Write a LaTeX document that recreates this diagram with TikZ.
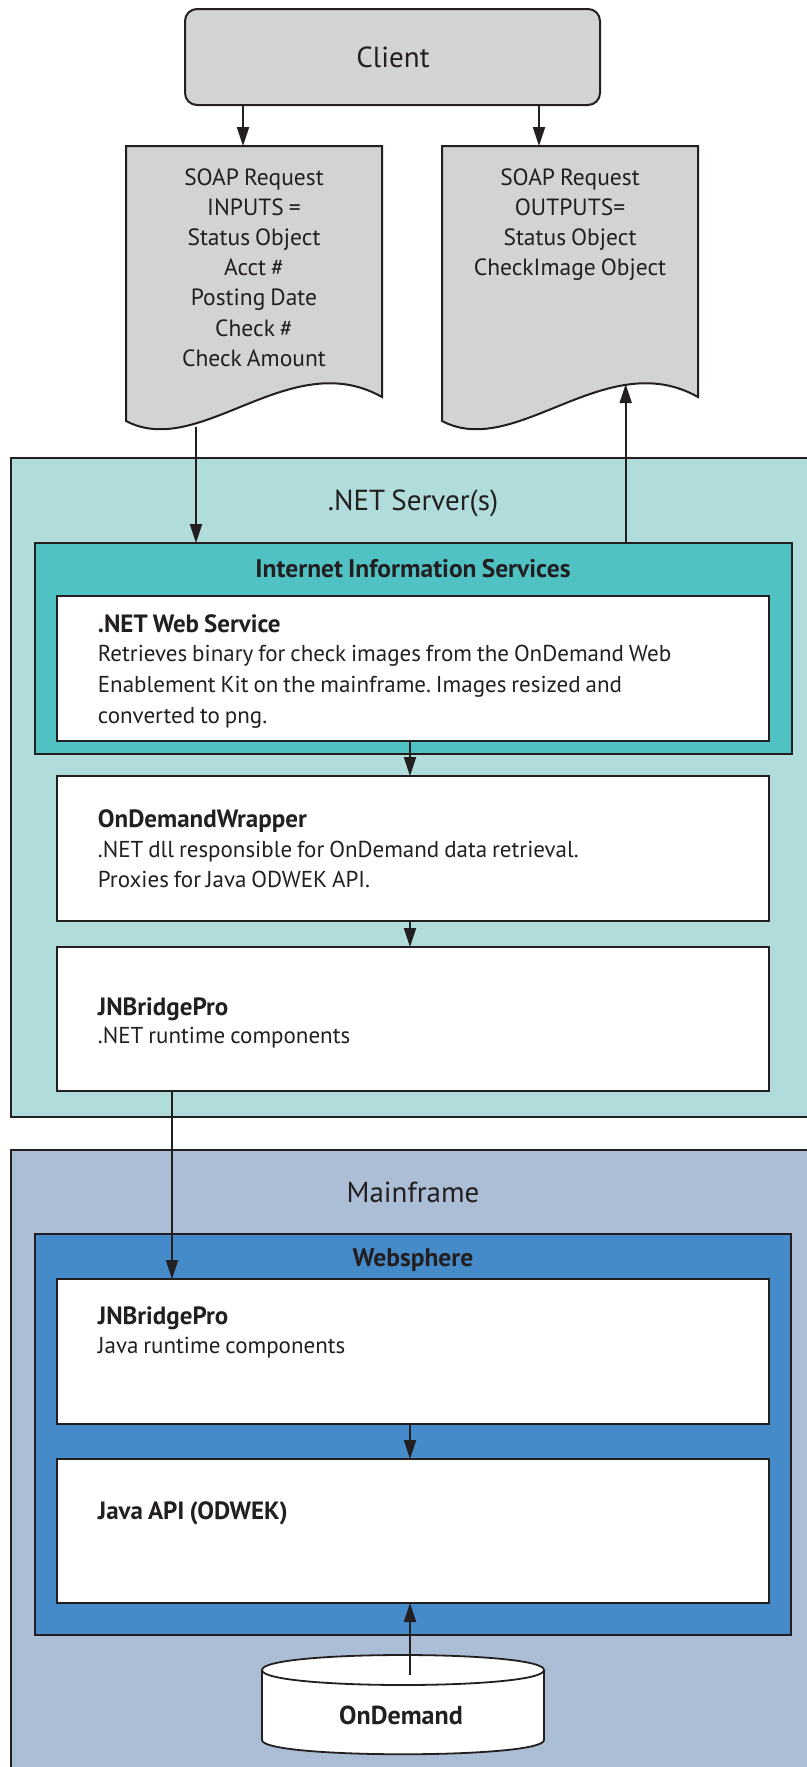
\documentclass[tikz,border=0pt]{standalone}
\usepackage{fontspec}
\setmainfont{PT Sans}[WordSpace=0.8]
\usetikzlibrary{arrows.meta}
\frenchspacing
\definecolor{lgray}{HTML}{D1D3D4}
\definecolor{srvc}{HTML}{B0DCDC}
\definecolor{iisc}{HTML}{50C2C4}
\definecolor{mfc}{HTML}{ABBED6}
\definecolor{wsc}{HTML}{458BCA}
\definecolor{ink}{HTML}{231F20}
\begin{document}
\begin{tikzpicture}[x=1pt,y=-1pt,line join=miter,
  frame/.style={draw=ink,line width=2.2pt,inner sep=0,outer sep=0,anchor=north west},
  wbox/.style={draw=ink,line width=1.4pt,fill=white,inner sep=0,outer sep=0,anchor=north west},
  ghost/.style={inner sep=0,outer sep=0,anchor=north west},
  arr/.style={draw=ink,line width=2pt,-{Triangle[length=19pt,width=12pt]}},
  big/.style={font=\fontsize{29}{32}\selectfont,anchor=base,inner sep=0,text=ink},
  doct/.style={font=\fontsize{23.5}{28}\selectfont,anchor=base,inner sep=0,text=ink},
  hdr/.style={font=\fontsize{25.5}{28}\selectfont\bfseries,anchor=base,inner sep=0,text=ink},
  ttl/.style={font=\fontsize{25}{28}\selectfont\bfseries,anchor=base west,inner sep=0,text=ink},
  body/.style={font=\fontsize{23}{26}\selectfont,anchor=base west,inner sep=0,text=ink}]
\fill[white] (0,0) rectangle (806,1767);
\useasboundingbox (0,0) rectangle (806,1767);

% Client
\node[frame,line width=2pt,fill=lgray,rounded corners=12pt,minimum width=415,minimum height=96] (client) at (185,9) {};
\node[big] (clientt) at (393,67) {Client};

% documents
\node[ghost,minimum width=256,minimum height=251] (doc1) at (126,146) {};
\node[ghost,minimum width=256,minimum height=251] (doc2) at (442,146) {};
\draw[draw=ink,line width=2pt,fill=lgray] (doc1.north west) -- (doc1.north east) -- (doc1.south east)
  .. controls (290,345) and (200,460) .. (126,421) -- cycle;
\draw[draw=ink,line width=2pt,fill=lgray] (doc2.north west) -- (doc2.north east) -- (doc2.south east)
  .. controls (606,345) and (516,460) .. (442,421) -- cycle;
\node[doct] (d1a) at (254,185.5) {SOAP Request};
\node[doct] (d1b) at (254,215.5) {INPUTS =};
\node[doct] (d1c) at (254,245.5) {Status Object};
\node[doct] (d1d) at (254,275.5) {Acct \#};
\node[doct] (d1e) at (254,305.5) {Posting Date};
\node[doct] (d1f) at (254,336) {Check \#};
\node[doct] (d1g) at (254,366) {Check Amount};
\node[doct] (d2a) at (570,185.5) {SOAP Request};
\node[doct] (d2b) at (570,215.5) {OUTPUTS=};
\node[doct] (d2c) at (570,245.5) {Status Object};
\node[doct] (d2d) at (570,275.5) {CheckImage Object};

% .NET server
\node[frame,fill=srvc,minimum width=830,minimum height=659] (srv) at (11,458) {};
\node[big] (srvt) at (413,510) {.NET Server(s)};
\node[frame,fill=iisc,minimum width=757,minimum height=211] (iis) at (35,543) {};
\node[hdr] (iist) at (413,577) {Internet Information Services};
\node[wbox,minimum width=712,minimum height=145] (wsvc) at (57,596) {};
\node[ttl] (wsvc1) at (97.7,632) {.NET Web Service};
\node[body] (wsvc2) at (97.7,661) {Retrieves binary for check images from the OnDemand Web};
\node[body] (wsvc3) at (97.7,692) {Enablement Kit on the mainframe. Images resized and};
\node[body] (wsvc4) at (97.7,723) {converted to png.};
\node[wbox,minimum width=712,minimum height=145] (odw) at (57,776) {};
\node[ttl] (odw1) at (97.7,827) {OnDemandWrapper};
\node[body] (odw2) at (97.7,857) {.NET dll responsible for OnDemand data retrieval.};
\node[body] (odw3) at (97.7,887) {Proxies for Java ODWEK API.};
\node[wbox,minimum width=712,minimum height=144] (jnb) at (57,947) {};
\node[ttl] (jnb1) at (97.7,1015) {JNBridgePro};
\node[body] (jnb2) at (97.7,1043) {.NET runtime components};

% Mainframe
\node[frame,fill=mfc,minimum width=830,minimum height=660] (mf) at (11,1150) {};
\node[big] (mft) at (413,1202) {Mainframe};
\node[frame,fill=wsc,minimum width=756,minimum height=401] (ws) at (35,1234) {};
\node[hdr] (wst) at (413,1266) {Websphere};
\node[wbox,minimum width=712,minimum height=145] (jnbj) at (57,1279) {};
\node[ttl] (jnbj1) at (97.7,1324) {JNBridgePro};
\node[body] (jnbj2) at (97.7,1353) {Java runtime components};
\node[wbox,minimum width=712,minimum height=144] (japi) at (57,1459) {};
\node[ttl] (japi1) at (97.7,1519) {Java API (ODWEK)};

% database
\node[ghost,minimum width=282,minimum height=99] (db) at (262,1655) {};
\draw[draw=ink,line width=1.8pt,fill=white] (db.west |- 0,1670) -- (db.west |- 0,1740)
  .. controls (262,1759) and (544,1759) .. (544,1740) -- (544,1670)
  .. controls (544,1650) and (262,1650) .. (262,1670) -- cycle;
\draw[draw=ink,line width=1.8pt] (544,1670) .. controls (544,1690) and (262,1690) .. (262,1670);
\node[font=\fontsize{26}{28}\selectfont\bfseries,anchor=base,inner sep=0,text=ink] (dbt) at (401,1724) {OnDemand};

% connectors
\coordinate (c1) at (243,0);
\coordinate (c2) at (539,0);
\coordinate (w1) at (196,427);
\coordinate (w2) at (625.7,384);
\coordinate (cx) at (410,0);
\coordinate (jx) at (172,0);
\coordinate (dbtop) at (410,1675);
\draw[arr] (c1 |- client.south) -- (c1 |- doc1.north);
\draw[arr] (c2 |- client.south) -- (c2 |- doc2.north);
\draw[arr] (w1) -- (w1 |- iis.north);
\draw[arr] (w2 |- iis.north) -- (w2);
\draw[arr] (cx |- wsvc.south) -- (cx |- odw.north);
\draw[arr] (cx |- odw.south) -- (cx |- jnb.north);
\draw[arr] (jx |- jnb.south) -- (jx |- jnbj.north);
\draw[arr] (cx |- jnbj.south) -- (cx |- japi.north);
\draw[arr] (dbtop) -- (cx |- japi.south);
\end{tikzpicture}
\end{document}
